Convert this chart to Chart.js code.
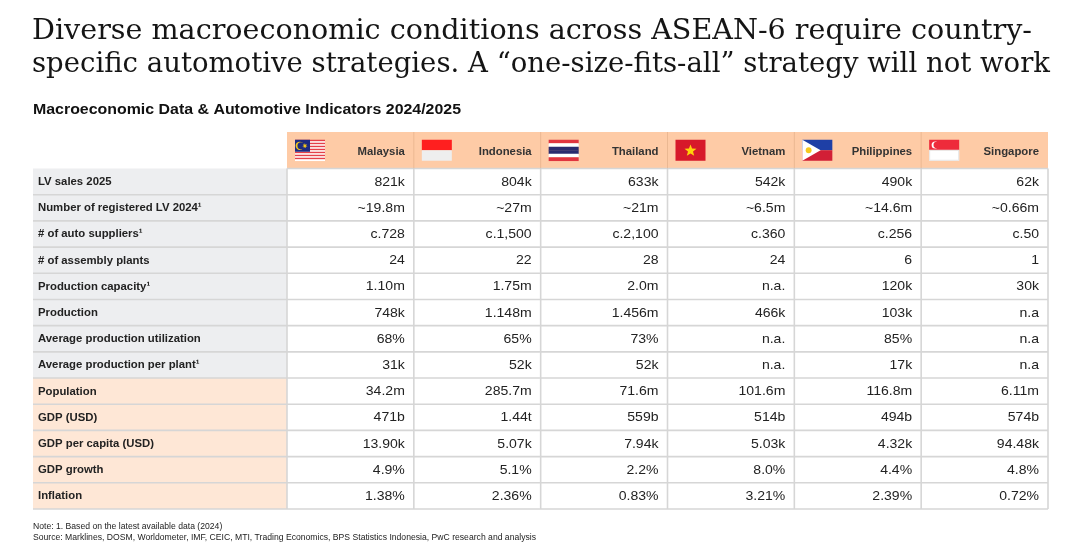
<!DOCTYPE html>
<html>
<head>
<meta charset="utf-8">
<script src="https://cdn.jsdelivr.net/npm/chart.js@4.4.1/dist/chart.umd.min.js"></script>
<style>
  html, body { margin: 0; background: #fff; }
  #wrap { width: 1080px; height: 551px; position: relative; }
</style>
</head>
<body>
<div id="wrap"><canvas id="myTable"></canvas></div>
<script>
// data
const countries = ['Malaysia', 'Indonesia', 'Thailand', 'Vietnam', 'Philippines', 'Singapore'];
const rowLabels = [
  'LV sales 2025',
  'Number of registered LV 2024¹',
  '# of auto suppliers¹',
  '# of assembly plants',
  'Production capacity¹',
  'Production',
  'Average production utilization',
  'Average production per plant¹',
  'Population',
  'GDP (USD)',
  'GDP per capita (USD)',
  'GDP growth',
  'Inflation'
];
const lvSales       = ['821k', '804k', '633k', '542k', '490k', '62k'];
const registeredLV  = ['~19.8m', '~27m', '~21m', '~6.5m', '~14.6m', '~0.66m'];
const autoSuppliers = ['c.728', 'c.1,500', 'c.2,100', 'c.360', 'c.256', 'c.50'];
const assembly      = ['24', '22', '28', '24', '6', '1'];
const prodCapacity  = ['1.10m', '1.75m', '2.0m', 'n.a.', '120k', '30k'];
const production    = ['748k', '1.148m', '1.456m', '466k', '103k', 'n.a'];
const utilization   = ['68%', '65%', '73%', 'n.a.', '85%', 'n.a'];
const perPlant      = ['31k', '52k', '52k', 'n.a.', '17k', 'n.a'];
const population    = ['34.2m', '285.7m', '71.6m', '101.6m', '116.8m', '6.11m'];
const gdp           = ['471b', '1.44t', '559b', '514b', '494b', '574b'];
const gdpPerCapita  = ['13.90k', '5.07k', '7.94k', '5.03k', '4.32k', '94.48k'];
const gdpGrowth     = ['4.9%', '5.1%', '2.2%', '8.0%', '4.4%', '4.8%'];
const inflation     = ['1.38%', '2.36%', '0.83%', '3.21%', '2.39%', '0.72%'];
const macroFrom = 8; // rows from "Population" on are the macro block

const rows = [lvSales, registeredLV, autoSuppliers, assembly, prodCapacity, production,
  utilization, perPlant, population, gdp, gdpPerCapita, gdpGrowth, inflation];

const titleLines = [
  'Diverse macroeconomic conditions across ASEAN-6 require country-',
  'specific automotive strategies. A \u201cone-size-fits-all\u201d strategy will not work'
];
const subTitle = 'Macroeconomic Data & Automotive Indicators 2024/2025';
const notes = [
  'Note: 1. Based on the latest available data (2024)',
  'Source: Marklines, DOSM, Worldometer, IMF, CEIC, MTI, Trading Economics, BPS Statistics Indonesia, PwC research and analysis'
];

const SANS = '"Liberation Sans", Arial, sans-serif';

function star(ctx, cx, cy, r, pts, fill) {
  ctx.beginPath();
  for (let i = 0; i < pts * 2; i++) {
    let rr = i % 2 ? r * 0.42 : r;
    let a = -Math.PI / 2 + i * Math.PI / pts;
    ctx.lineTo(cx + rr * Math.cos(a), cy + rr * Math.sin(a));
  }
  ctx.closePath();
  ctx.fillStyle = fill;
  ctx.fill();
}

// little flags, drawn into a w x h box
const flags = {
  Malaysia(ctx, x, y, w, h) {
    for (let i = 0; i < 14; i++) {
      ctx.fillStyle = i % 2 ? '#fff' : '#e4414a';
      ctx.fillRect(x, y + i * h / 14, w, h / 14 + 0.3);
    }
    ctx.fillStyle = '#1d2a80';
    ctx.fillRect(x, y, w / 2, h * 8 / 14);
    ctx.fillStyle = '#f5c81a';
    ctx.beginPath(); ctx.arc(x + w * 0.16, y + h * 0.29, h * 0.2, 0, Math.PI * 2); ctx.fill();
    ctx.fillStyle = '#1d2a80';
    ctx.beginPath(); ctx.arc(x + w * 0.2, y + h * 0.29, h * 0.17, 0, Math.PI * 2); ctx.fill();
    star(ctx, x + w * 0.33, y + h * 0.29, h * 0.13, 7, '#f5c81a');
  },
  Indonesia(ctx, x, y, w, h) {
    ctx.fillStyle = '#ff1f1f'; ctx.fillRect(x, y, w, h / 2);
    ctx.fillStyle = '#eeeeee'; ctx.fillRect(x, y + h / 2, w, h / 2);
  },
  Thailand(ctx, x, y, w, h) {
    const c = ['#e0343f', '#fff', '#2a2a6e', '#2a2a6e', '#fff', '#e0343f'];
    c.forEach((col, i) => { ctx.fillStyle = col; ctx.fillRect(x, y + i * h / 6, w, h / 6 + 0.3); });
  },
  Vietnam(ctx, x, y, w, h) {
    ctx.fillStyle = '#d7192a'; ctx.fillRect(x, y, w, h);
    star(ctx, x + w / 2, y + h / 2 + 0.5, h * 0.3, 5, '#ffd20a');
  },
  Philippines(ctx, x, y, w, h) {
    ctx.fillStyle = '#1e3fa6'; ctx.fillRect(x, y, w, h / 2);
    ctx.fillStyle = '#d21f36'; ctx.fillRect(x, y + h / 2, w, h / 2);
    ctx.fillStyle = '#fff';
    ctx.beginPath(); ctx.moveTo(x, y); ctx.lineTo(x + h * 0.87, y + h / 2); ctx.lineTo(x, y + h); ctx.closePath(); ctx.fill();
    ctx.fillStyle = '#f6c81e';
    ctx.beginPath(); ctx.arc(x + h * 0.3, y + h / 2, h * 0.14, 0, Math.PI * 2); ctx.fill();
  },
  Singapore(ctx, x, y, w, h) {
    ctx.fillStyle = '#ee2b3b'; ctx.fillRect(x, y, w, h / 2);
    ctx.fillStyle = '#fff'; ctx.fillRect(x, y + h / 2, w, h / 2);
    ctx.strokeStyle = '#e6e6e6'; ctx.lineWidth = 1; ctx.strokeRect(x + 0.5, y + h / 2, w - 1, h / 2 - 0.5);
    ctx.fillStyle = '#fff';
    ctx.beginPath(); ctx.arc(x + w * 0.2, y + h * 0.25, h * 0.17, 0, Math.PI * 2); ctx.fill();
    ctx.fillStyle = '#ee2b3b';
    ctx.beginPath(); ctx.arc(x + w * 0.25, y + h * 0.25, h * 0.15, 0, Math.PI * 2); ctx.fill();
  }
};

// the slide text is a bit wider than the local fonts, so stretch it sideways
function wideText(ctx, text, x, y, sx, align) {
  ctx.save();
  ctx.translate(x, y);
  ctx.scale(sx, 1);
  ctx.textAlign = align || 'left';
  ctx.fillText(text, 0, 0);
  ctx.restore();
}

const tablePlugin = {
  id: 'tablePlugin',
  afterDraw(chart) {
    const ctx = chart.ctx;
    const x = chart.scales.x, y = chart.scales.y;
    const colW = x.width / countries.length;
    const rowH = y.height / rowLabels.length;
    const labelLeft = 33;
    const headTop = 132;

    ctx.save();

    // title, each line fitted to its width on the slide
    ctx.font = '28px "DejaVu Serif", serif';
    ctx.fillStyle = '#151515';
    ctx.textBaseline = 'alphabetic';
    wideText(ctx, titleLines[0], 32, 39, 1000 / ctx.measureText(titleLines[0]).width);
    wideText(ctx, titleLines[1], 32, 72, 1018 / ctx.measureText(titleLines[1]).width);

    // subtitle
    ctx.font = 'bold 14.5px ' + SANS;
    ctx.fillStyle = '#111';
    ctx.textBaseline = 'middle';
    wideText(ctx, subTitle, labelLeft, 110, 428 / ctx.measureText(subTitle).width);

    // header band
    ctx.fillStyle = '#fecba6';
    ctx.fillRect(x.left, headTop, x.width, y.top - headTop);

    // label column fills
    rowLabels.forEach((lab, r) => {
      const cy = y.getPixelForValue(r);
      ctx.fillStyle = r >= macroFrom ? '#fee7d6' : '#edeef0';
      ctx.fillRect(labelLeft, cy - rowH / 2, x.left - labelLeft, rowH);
    });

    // grid
    ctx.strokeStyle = '#d6d6d6';
    ctx.lineWidth = 1.6;
    for (let r = 0; r <= rowLabels.length; r++) {
      const ly = y.top + r * rowH;
      ctx.beginPath(); ctx.moveTo(r === 0 ? x.left : labelLeft, ly); ctx.lineTo(x.right, ly); ctx.stroke();
    }
    for (let c = 0; c <= countries.length; c++) {
      const lx = x.left + c * colW;
      ctx.beginPath(); ctx.moveTo(lx, y.top); ctx.lineTo(lx, y.bottom); ctx.stroke();
    }
    ctx.strokeStyle = 'rgba(200,150,110,0.35)';
    ctx.lineWidth = 1;
    for (let c = 1; c < countries.length; c++) {
      const lx = x.left + c * colW;
      ctx.beginPath(); ctx.moveTo(lx, headTop); ctx.lineTo(lx, y.top); ctx.stroke();
    }

    // header: flag + country
    const headMid = (headTop + y.top) / 2;
    countries.forEach((name, c) => {
      const cx = x.getPixelForValue(c);
      const left = cx - colW / 2, right = cx + colW / 2;
      flags[name](ctx, left + 8, headMid - 10.5, 30, 21);
      ctx.font = 'bold 10.5px ' + SANS;
      ctx.fillStyle = '#333';
      ctx.textBaseline = 'middle';
      wideText(ctx, name, right - 9, headMid + 1.5, 1.08, 'right');
    });

    // row labels and values
    rowLabels.forEach((lab, r) => {
      const cy = y.getPixelForValue(r);
      ctx.font = 'bold 10.5px ' + SANS;
      ctx.fillStyle = '#222';
      wideText(ctx, lab, labelLeft + 5, cy + 0.5, 1.08, 'left');
      ctx.font = '13px ' + SANS;
      rows[r].forEach((v, c) => {
        wideText(ctx, v, x.getPixelForValue(c) + colW / 2 - 9, cy + 0.5, 1.08, 'right');
      });
    });

    // notes
    ctx.font = '8.8px ' + SANS;
    ctx.fillStyle = '#222';
    const nsx = 503 / ctx.measureText(notes[1]).width;
    wideText(ctx, notes[0], labelLeft, 527, nsx);
    wideText(ctx, notes[1], labelLeft, 538, nsx);
    ctx.restore();
  }
};

new Chart(document.getElementById('myTable'), {
  type: 'bar',
  data: {
    labels: countries,
    datasets: [{ data: [], backgroundColor: 'transparent' }]
  },
  options: {
    responsive: true,
    maintainAspectRatio: false,
    animation: false,
    events: [],
    layout: { padding: { left: 287, right: 32, top: 168.5, bottom: 42 } },
    scales: {
      x: { type: 'category', labels: countries, offset: true, display: false },
      y: { type: 'category', labels: rowLabels, offset: true, display: false }
    },
    plugins: { legend: { display: false }, tooltip: { enabled: false } }
  },
  plugins: [tablePlugin]
});
</script>
</body>
</html>
